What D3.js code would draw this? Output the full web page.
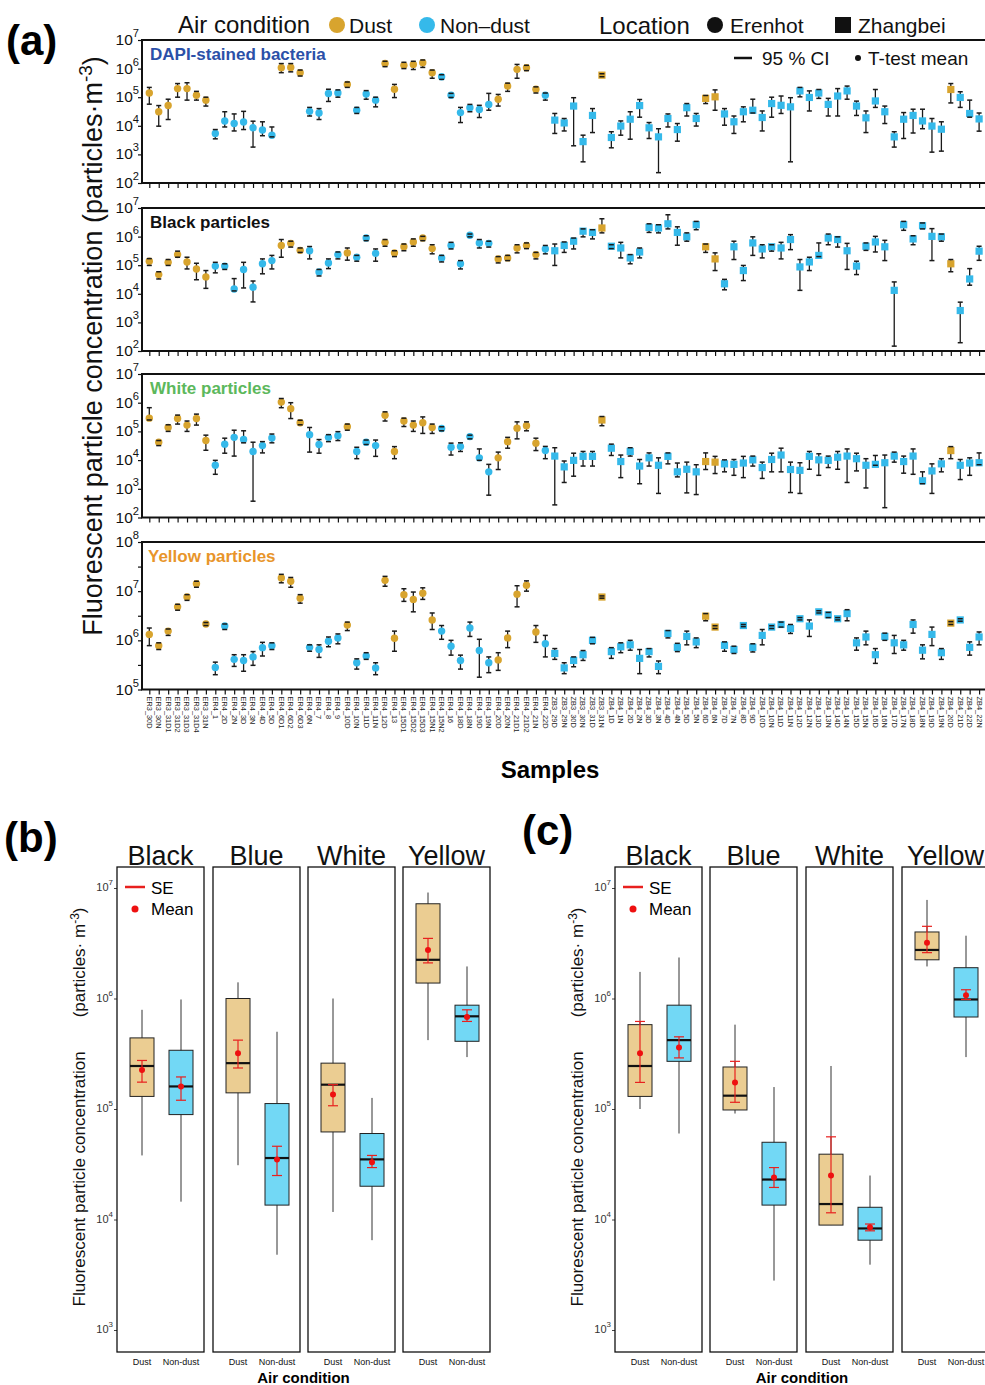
<!DOCTYPE html>
<html>
<head>
<meta charset="utf-8">
<script src="https://cdn.jsdelivr.net/npm/d3@7"></script>
<style>
  html, body { margin: 0; padding: 0; background: #fff; }
  svg { display: block; font-family: "Liberation Sans", Arial, sans-serif; }
</style>
</head>
<body>
<svg id="fig" width="985" height="1385"></svg>
<script>
// ---------------- Panel (a): per-sample means with 95 % CI ----------------
const samples = [
  "ER3_30D","ER3_30N","ER3_31D1","ER3_31D2","ER3_31D3","ER3_31D4","ER3_31N","ER4_1","ER4_2D","ER4_2N",
  "ER4_3D","ER4_3N","ER4_4D","ER4_5D","ER4_6D1","ER4_6D2","ER4_6D3","ER4_6N","ER4_7","ER4_8",
  "ER4_9","ER4_10D","ER4_10N","ER4_11D","ER4_11N","ER4_12D","ER4_13","ER4_15D1","ER4_15D2","ER4_15D3",
  "ER4_15N1","ER4_15N2","ER4_16","ER4_18D","ER4_18N","ER4_19D","ER4_19N","ER4_20D","ER4_20N","ER4_21D1",
  "ER4_21D2","ER4_21N","ER4_22D","ZB3_29D","ZB3_29N","ZB3_30D","ZB3_30N","ZB3_31D","ZB3_31N","ZB4_1D",
  "ZB4_1N","ZB4_2D","ZB4_2N","ZB4_3D","ZB4_3N","ZB4_4D","ZB4_4N","ZB4_5D","ZB4_5N","ZB4_6D",
  "ZB4_6N","ZB4_7D","ZB4_7N","ZB4_8D","ZB4_9D","ZB4_10D","ZB4_10N","ZB4_11D","ZB4_11N","ZB4_12D",
  "ZB4_12N","ZB4_13D","ZB4_13N","ZB4_14D","ZB4_14N","ZB4_15D","ZB4_15N","ZB4_16D","ZB4_16N","ZB4_17D",
  "ZB4_17N","ZB4_18D","ZB4_18N","ZB4_19D","ZB4_19N","ZB4_20D","ZB4_21D","ZB4_22D","ZB4_22N"
];

// indices of dust-event samples; everything else is non-dust
const dustSamples = [0,1,2,3,4,5,6,14,15,16,21,25,26,27,28,29,30,37,38,39,40,41,48,59,60,85];

const dapiMean = [
  1.4e5,3.1e4,5.1e4,2.0e5,2.0e5,1.17e5,7.9e4,5.4e3,1.48e4,1.2e4,
  1.35e4,8.5e3,7.1e3,4.7e3,1.07e6,1.1e6,7.2e5,3.2e4,2.8e4,1.35e5,
  1.4e5,2.8e5,3.5e4,1.3e5,7.9e4,1.5e6,1.9e5,1.3e6,1.4e6,1.6e6,
  7.2e5,5.2e5,1.17e5,2.9e4,4.3e4,3.7e4,5.6e4,8.5e4,2.45e5,9.4e5,
  1.07e6,1.9e5,1.17e5,1.58e4,1.26e4,4.9e4,2.8e3,2.3e4,5.9e5,3.9e3,
  9.8e3,1.7e4,5.1e4,8.5e3,4.1e3,1.8e4,7.4e3,4.3e4,1.8e4,9.1e4,
  1.03e5,2.6e4,1.38e4,3.1e4,3.5e4,1.95e4,6.0e4,5.2e4,4.6e4,1.66e5,
  9.8e4,1.4e5,5.6e4,1.1e5,1.66e5,4.9e4,1.9e4,7.4e4,3.1e4,4.1e3,
  1.7e4,2.3e4,1.48e4,9.8e3,7.6e3,1.86e5,9.8e4,2.7e4,1.74e4
];
const dapiLow = [
  5.7e4,9.7e3,1.66e4,1.0e5,7.9e4,7.9e4,4.9e4,3.5e3,9.1e3,6.6e3,
  7.4e3,1.8e3,4.5e3,4.1e3,7.2e5,7.7e5,5.5e5,2.2e4,1.66e4,7.1e4,
  1.0e5,2.2e5,2.7e4,8.5e4,4.6e4,1.17e6,9.7e4,1.0e6,9.3e5,1.1e6,
  4.6e5,4.2e5,9.8e4,1.3e4,3.1e4,1.95e4,3.5e4,4.9e4,1.6e5,4.6e5,
  8.5e5,1.4e5,7.9e4,5.4e3,6.6e3,2.0e3,550,5.8e3,5.2e5,1.7e3,
  4.7e3,3.4e3,2.0e4,3.6e3,230,9.1e3,2.9e3,2.2e4,9.8e3,6.0e4,
  3.5e4,1.05e4,5.4e3,1.38e4,2.8e4,6.6e3,2.0e4,2.7e4,550,1.03e5,
  3.3e4,9.1e4,2.2e4,2.2e4,8.5e4,2.3e4,5.8e3,4.4e4,1.2e4,1.8e3,
  3.6e3,5.6e3,7.9e3,1.2e3,1.3e3,6.3e4,4.4e4,2.0e4,6.5e3
];
const dapiHigh = [
  2.2e5,5.1e4,8.5e4,3.0e5,3.2e5,1.6e5,1.0e5,7.4e3,3.1e4,2.6e4,
  3.2e4,1.45e4,1.38e4,9.1e3,1.5e6,1.5e6,8.9e5,4.4e4,4.0e4,1.9e5,
  1.8e5,3.4e5,4.4e4,1.7e5,1.0e5,1.8e6,2.8e5,1.66e6,1.8e6,2.0e6,
  8.9e5,6.1e5,1.36e5,4.4e4,5.6e4,5.2e4,1.36e5,1.25e5,3.1e5,1.4e6,
  1.3e6,2.3e5,1.4e5,2.7e4,1.8e4,9.6e4,4.7e3,4.0e4,6.6e5,6.2e3,
  1.48e4,3.1e4,8.3e4,1.3e4,7.9e3,2.6e4,1.2e4,6.0e4,2.7e4,1.15e5,
  1.8e5,4.0e4,2.2e4,4.6e4,8.5e4,3.3e4,1.0e5,1.1e5,9.6e4,2.2e5,
  1.66e5,1.86e5,9.1e4,2.0e5,2.45e5,7.3e4,3.3e4,1.86e5,4.9e4,6.2e3,
  2.9e4,3.8e4,3.8e4,1.8e4,1.38e4,3.0e5,1.55e5,7.9e4,2.8e4
];

const blackMean = [
  1.38e5,4.7e4,1.26e5,2.35e5,1.3e5,7.4e4,3.9e4,9.3e4,9.3e4,1.48e4,
  7.1e4,1.7e4,1.12e5,1.45e5,4.9e5,5.8e5,3.3e5,3.2e5,5.8e4,1.2e5,
  2.35e5,2.7e5,1.9e5,8.9e5,2.6e5,6.3e5,2.7e5,4.4e5,6.5e5,8.9e5,
  3.8e5,1.8e5,4.9e5,1.12e5,1.12e6,6.0e5,5.8e5,1.66e5,1.8e5,4.0e5,
  4.9e5,2.35e5,3.7e5,3.2e5,4.9e5,6.9e5,1.55e6,1.4e6,2.0e6,4.6e5,
  4.0e5,1.8e5,2.9e5,2.1e6,2.0e6,2.8e6,1.4e6,9.8e5,2.6e6,4.4e5,
  1.66e5,2.24e4,4.4e5,6.5e4,6.0e5,3.7e5,4.4e5,4.0e5,7.9e5,8.7e4,
  1.3e5,2.2e5,8.9e5,7.9e5,3.2e5,9.3e4,4.6e5,6.5e5,4.4e5,1.32e4,
  2.6e6,8.3e5,2.4e6,1.02e6,9.8e5,1.12e5,2.6e3,3.3e4,3.1e5
];
const blackLow = [
  9.8e4,3.3e4,9.8e4,1.9e5,7.4e4,3.1e4,1.55e4,5.4e4,7.1e4,1.26e4,
  1.6e4,5.2e3,5.0e4,7.4e4,1.9e5,4.3e5,2.8e5,1.66e5,4.2e4,7.6e4,
  1.66e5,1.5e5,1.38e5,7.2e5,1.38e5,4.6e5,2.0e5,3.2e5,4.6e5,7.2e5,
  2.5e5,1.3e5,3.7e5,7.4e4,9.8e5,4.0e5,4.3e5,1.2e5,1.45e5,2.7e5,
  3.8e5,1.66e5,2.5e5,9.8e4,2.8e5,3.7e5,9.8e5,8.3e5,1.35e6,3.8e5,
  1.8e5,1.12e5,1.8e5,1.4e6,1.35e6,1.86e6,5.0e5,6.9e5,1.74e6,2.8e5,
  6.5e4,1.38e4,1.58e5,2.9e4,2.2e5,1.8e5,3.1e5,1.66e5,3.5e5,1.32e4,
  6.5e4,2.0e5,5.2e5,4.3e5,7.1e4,4.7e4,3.3e5,2.9e5,1.45e5,148,
  1.66e6,5.2e5,1.86e6,1.45e5,6.9e5,5.9e4,195,2.0e4,1.48e5
];
const blackHigh = [
  1.7e5,5.9e4,1.58e5,3.1e5,1.9e5,1.17e5,6.5e4,1.26e5,1.12e5,3.4e4,
  1.26e5,2.8e4,1.66e5,2.2e5,7.9e5,6.9e5,4.0e5,4.5e5,7.1e4,1.66e5,
  2.9e5,4.0e5,2.2e5,1.07e6,3.7e5,7.9e5,3.2e5,5.5e5,8.3e5,1.02e6,
  5.2e5,2.2e5,6.3e5,1.45e5,1.23e6,7.9e5,6.9e5,2.0e5,2.2e5,5.2e5,
  6.0e5,2.8e5,4.9e5,5.5e5,6.5e5,8.9e5,1.86e6,1.74e6,4.2e6,5.2e5,
  6.3e5,2.35e5,4.0e5,2.8e6,2.6e6,5.8e6,2.2e6,1.35e6,3.4e6,5.5e5,
  2.7e5,3.2e4,6.9e5,9.8e4,9.8e5,5.2e5,5.2e5,6.3e5,1.17e6,1.58e5,
  1.9e5,6.0e5,1.23e6,9.8e5,5.8e5,1.38e5,6.0e5,1.02e6,7.4e5,2.6e4,
  3.4e6,1.07e6,3.0e6,1.9e6,1.23e6,1.58e5,5.1e3,7.6e4,4.6e5
];

const whiteMean = [
  2.9e5,4.2e4,1.37e5,2.8e5,1.66e5,2.8e5,4.8e4,6.6e3,3.6e4,6.2e4,
  5.2e4,2.0e4,3.2e4,5.9e4,1.05e6,6.2e5,2.0e5,7.7e4,3.5e4,6.2e4,
  7.1e4,1.45e5,2.0e4,4.2e4,3.2e4,3.65e5,2.0e4,2.3e5,1.66e5,2.0e5,
  1.37e5,1.26e5,2.8e4,2.95e4,6.6e4,1.2e4,3.9e3,1.2e4,4.4e4,1.3e5,
  1.58e5,3.9e4,2.15e4,1.38e4,5.8e3,9.8e3,1.35e4,1.35e4,2.5e5,2.6e4,
  8.9e3,2.0e4,6.2e3,1.2e4,6.6e3,1.35e4,3.9e3,4.8e3,3.9e3,8.9e3,
  8.5e3,7.4e3,7.1e3,7.9e3,1.02e4,5.5e3,1.05e4,1.5e4,4.7e3,4.4e3,
  1.35e4,1.02e4,9.8e3,1.26e4,1.38e4,1.12e4,6.6e3,7.1e3,8.1e3,1.38e4,
  8.9e3,1.38e4,1.9e3,4.2e3,7.4e3,2.15e4,6.6e3,7.9e3,8.1e3
];
const whiteLow = [
  2.5e5,3.2e4,1.0e5,1.8e5,1.0e5,1.66e5,2.2e4,3.2e3,1.74e4,1.38e4,
  4.0e4,370,1.78e4,4.0e4,6.7e5,2.8e5,1.7e5,1.9e4,1.74e4,4.4e4,
  4.8e4,1.1e5,1.12e4,3.5e4,1.35e4,2.3e5,1.12e4,1.48e5,1.0e5,8.5e4,
  8.5e4,1.05e5,1.5e4,2.0e4,5.5e4,9.8e3,600,4.7e3,2.6e4,5.5e4,
  1.05e5,2.15e4,1.12e4,275,1.66e3,2.75e3,6.2e3,6.2e3,1.58e5,1.45e4,
  2.45e3,1.38e4,1.5e3,6.2e3,690,7.4e3,2.6e3,720,630,4.7e3,
  3.4e3,3.9e3,2.95e3,2.45e3,6.2e3,2.3e3,3.9e3,3.9e3,740,690,
  4.8e3,2.95e3,5.5e3,4.8e3,1.66e3,4.2e3,1.07e3,6.6e3,220,8.5e3,
  3.5e3,3.2e3,1.5e3,690,3.9e3,1.12e4,2.1e3,2.95e3,6.9e3
];
const whiteHigh = [
  6.7e5,4.8e4,1.7e5,3.7e5,2.3e5,4.0e5,7.4e4,9.8e3,5.8e4,1.1e5,
  1.05e5,4.2e4,4.4e4,8.1e4,1.4e6,1.0e6,2.45e5,1.37e5,5.2e4,7.7e4,
  9.8e4,1.8e5,2.8e4,5.0e4,5.0e4,4.8e5,2.95e4,2.9e5,2.3e5,3.2e5,
  1.8e5,1.45e5,3.9e4,4.0e4,7.4e4,2.45e4,7.1e3,1.9e4,6.2e4,2.15e5,
  2.15e5,5.8e4,3.0e4,2.7e4,9.3e3,1.74e4,2.0e4,2.0e4,3.3e5,3.6e4,
  1.5e4,2.7e4,1.05e4,1.78e4,1.2e4,1.78e4,7.9e3,8.5e3,6.9e3,1.78e4,
  1.35e4,1.02e4,1.05e4,1.35e4,1.38e4,8.5e3,1.74e4,2.6e4,8.5e3,8.1e3,
  2.0e4,1.66e4,1.38e4,2.0e4,2.45e4,1.74e4,1.12e4,1.45e4,1.5e4,1.9e4,
  1.38e4,2.45e4,3.9e3,7.4e3,1.12e4,2.95e4,1.05e4,1.2e4,1.78e4
];

const yellowMean = [
  1.32e6,7.8e5,1.54e6,4.8e6,7.6e6,1.42e7,2.15e6,2.8e5,1.95e6,4.1e5,
  3.9e5,4.6e5,7.1e5,7.8e5,1.86e7,1.59e7,7.2e6,7.2e5,6.5e5,9.6e5,
  1.12e6,2.04e6,3.5e5,4.8e5,2.75e5,1.66e7,1.1e6,8.5e6,6.8e6,9.1e6,
  2.6e6,1.54e6,7.6e5,3.9e5,1.78e6,6.2e5,3.5e5,4.0e5,1.12e6,8.7e6,
  1.32e7,1.48e6,8.5e5,5.4e5,2.75e5,3.9e5,5.1e5,1.0e6,7.6e6,5.9e5,
  7.4e5,8.1e5,4.3e5,5.9e5,2.95e5,1.38e6,7.2e5,1.2e6,9.3e5,3.1e6,
  1.86e6,7.9e5,6.5e5,2.0e6,7.2e5,1.26e6,1.86e6,2.1e6,1.74e6,2.75e6,
  1.95e6,3.8e6,3.3e6,2.75e6,3.5e6,8.9e5,1.17e6,5.1e5,1.2e6,8.9e5,
  8.1e5,2.1e6,6.3e5,1.32e6,5.6e5,2.24e6,2.6e6,7.2e5,1.17e6
];
const yellowLow = [
  7.8e5,6.5e5,1.26e6,4.1e6,6.5e6,1.2e7,2.0e6,2.0e5,1.66e6,2.95e5,
  2.35e5,3.1e5,4.8e5,6.5e5,1.48e7,1.2e7,5.7e6,6.0e5,4.5e5,7.4e5,
  8.5e5,1.58e6,2.6e5,4.1e5,2.0e5,1.26e7,6.0e5,6.2e6,3.8e6,6.8e6,
  1.66e6,1.05e6,5.0e5,2.6e5,1.2e6,1.78e5,2.2e5,2.45e5,7.1e5,4.8e6,
  1.0e7,9.1e5,4.6e5,4.1e5,2.1e5,2.9e5,3.9e5,8.5e5,7.2e6,4.3e5,
  5.6e5,6.3e5,2.1e5,4.6e5,2.1e5,1.12e6,5.9e5,8.1e5,7.1e5,2.5e6,
  1.74e6,6.0e5,5.4e5,1.9e6,5.8e5,8.1e5,1.74e6,1.86e6,1.38e6,2.6e6,
  1.2e6,3.6e6,2.9e6,2.6e6,2.5e6,6.3e5,8.1e5,3.4e5,1.0e6,5.4e5,
  6.3e5,1.4e6,4.2e5,7.8e5,4.1e5,2.1e6,2.45e6,5.0e5,8.1e5
];
const yellowHigh = [
  1.78e6,8.9e5,1.7e6,5.4e6,8.5e6,1.59e7,2.3e6,3.6e5,2.15e6,5.1e5,
  5.1e5,5.9e5,9.1e5,8.9e5,2.2e7,1.9e7,8.5e6,8.1e5,8.1e5,1.17e6,
  1.35e6,2.35e6,4.2e5,5.6e5,3.5e5,2.0e7,1.54e6,1.12e7,9.6e6,1.17e7,
  3.6e6,2.0e6,1.0e6,5.0e5,2.35e6,1.05e6,4.6e5,5.6e5,1.54e6,1.29e7,
  1.62e7,2.0e6,1.26e6,6.8e5,3.5e5,4.6e5,6.2e5,1.15e6,8.0e6,7.1e5,
  8.9e5,1.0e6,6.5e5,6.8e5,3.8e5,1.58e6,8.7e5,1.54e6,1.12e6,3.5e6,
  1.98e6,9.3e5,7.6e5,2.1e6,8.5e5,1.66e6,1.98e6,2.35e6,2.1e6,2.9e6,
  2.6e6,4.0e6,3.7e6,2.9e6,4.2e6,1.12e6,1.54e6,6.8e5,1.4e6,1.26e6,
  1.0e6,2.6e6,8.1e5,1.86e6,6.8e5,2.4e6,2.75e6,9.3e5,1.48e6
];

// ---------------- Panels (b) and (c): box plots by air condition ----------------
const colourGroups = ["Black", "Blue", "White", "Yellow"];
const airConditions = ["Dust", "Non-dust"];
// per group, [dust, non-dust]; order inside each pair: whisker low, Q1, median, Q3, whisker high
const boxStatsB = [
  [[3.8e4, 1.3e5, 2.45e5, 4.4e5, 7.9e5], [1.45e4, 8.9e4, 1.6e5, 3.4e5, 9.8e5]],
  [[3.1e4, 1.4e5, 2.6e5, 1.0e6, 1.4e6],  [4.8e3, 1.35e4, 3.6e4, 1.12e5, 5.0e5]],
  [[1.17e4, 6.2e4, 1.66e5, 2.6e5, 1.0e6], [6.5e3, 2.0e4, 3.5e4, 6.0e4, 1.26e5]],
  [[4.2e5, 1.38e6, 2.24e6, 7.2e6, 9.1e6], [2.95e5, 4.1e5, 6.9e5, 8.7e5, 1.95e6]]
];
// per group, [dust, non-dust]; order: mean, SE low, SE high
const meanSEB = [
  [[2.25e5, 1.75e5, 2.75e5], [1.6e5, 1.2e5, 1.95e5]],
  [[3.2e5, 2.35e5, 4.2e5],   [3.5e4, 2.5e4, 4.6e4]],
  [[1.35e5, 1.07e5, 1.66e5], [3.3e4, 2.95e4, 3.8e4]],
  [[2.75e6, 2.1e6, 3.5e6],   [6.8e5, 6.2e5, 7.9e5]]
];
const boxStatsC = [
  [[1.0e5, 1.3e5, 2.45e5, 5.8e5, 1.74e6], [6.0e4, 2.7e5, 4.2e5, 8.7e5, 2.35e6]],
  [[9.1e4, 9.8e4, 1.32e5, 2.4e5, 5.8e5],  [2.8e3, 1.35e4, 2.3e4, 5.0e4, 1.58e5]],
  [[8.9e3, 8.9e3, 1.38e4, 3.9e4, 2.45e5], [3.9e3, 6.5e3, 8.3e3, 1.29e4, 2.5e4]],
  [[1.95e6, 2.24e6, 2.75e6, 4.0e6, 7.8e6], [2.95e5, 6.8e5, 9.8e5, 1.9e6, 3.7e6]]
];
const meanSEC = [
  [[3.2e5, 1.74e5, 6.2e5], [3.6e5, 2.9e5, 4.5e5]],
  [[1.74e5, 1.15e5, 2.7e5], [2.4e4, 1.95e4, 2.95e4]],
  [[2.5e4, 1.15e4, 5.6e4], [8.5e3, 7.9e3, 9.1e3]],
  [[3.2e6, 2.6e6, 4.5e6], [1.07e6, 9.8e5, 1.2e6]]
];

// ---------------- drawing ----------------
const svg = d3.select("#fig");
const DUST = "#d8a42e", NONDUST = "#35b9ea";

function powerLabel(sel, x, y, exp, size, anchor, fill) {
  const t = sel.append("text").attr("x", x).attr("y", y).attr("text-anchor", anchor)
    .attr("dominant-baseline", "middle").attr("font-size", size).attr("fill", fill || "#111");
  t.append("tspan").text("10");
  t.append("tspan").attr("dy", -size * 0.45).attr("font-size", size * 0.72).text(exp);
  return t;
}

// ---- Panel (a)
const x = d3.scalePoint().domain(samples).range([149.3, 979.1]);
const frameL = 142, frameR = 990;
const isDust = samples.map((s, i) => dustSamples.includes(i));

const subpanels = [
  { title: "DAPI-stained bacteria", color: "#2b50a8", top: 40,  bottom: 183,   domain: [1e2, 1e7], mean: dapiMean,   lo: dapiLow,   hi: dapiHigh },
  { title: "Black particles",       color: "#111111", top: 208, bottom: 351,   domain: [1e2, 1e7], mean: blackMean,  lo: blackLow,  hi: blackHigh },
  { title: "White particles",       color: "#5cb85c", top: 374, bottom: 517.5, domain: [1e2, 1e7], mean: whiteMean,  lo: whiteLow,  hi: whiteHigh },
  { title: "Yellow particles",      color: "#e8952a", top: 542, bottom: 689.5, domain: [1e5, 1e8], mean: yellowMean, lo: yellowLow, hi: yellowHigh }
];

subpanels.forEach((p, pi) => {
  const y = d3.scaleLog().domain(p.domain).range([p.bottom, p.top]);
  const g = svg.append("g");
  const decades = d3.range(Math.log10(p.domain[0]), Math.log10(p.domain[1]) + 1);

  // frame
  g.append("rect").attr("x", frameL).attr("y", p.top).attr("width", frameR - frameL)
    .attr("height", p.bottom - p.top).attr("fill", "none").attr("stroke", "#111").attr("stroke-width", 2);

  // y axis ticks + labels
  const yAxis = d3.axisLeft(y).tickValues(decades.map(d => Math.pow(10, d))).tickSize(4).tickFormat("");
  const ya = g.append("g").attr("transform", `translate(${frameL},0)`).call(yAxis);
  ya.select(".domain").remove();
  ya.selectAll("line").attr("stroke", "#111").attr("stroke-width", 1.2);
  if (pi === 3) {
    const halfTicks = d3.range(5.5, 8, 1).map(d => Math.pow(10, d));
    g.append("g").attr("transform", `translate(${frameL},0)`)
      .call(d3.axisLeft(y).tickValues(halfTicks).tickSize(4).tickFormat(""))
      .call(s => { s.select(".domain").remove(); s.selectAll("line").attr("stroke", "#111").attr("stroke-width", 1.2); });
  }
  decades.forEach(d => powerLabel(g, 139, y(Math.pow(10, d)) + 1, d, 15.5, "end"));

  // x ticks
  const xa = g.append("g").attr("transform", `translate(0,${p.bottom})`)
    .call(d3.axisBottom(x).tickSize(5).tickFormat(""));
  xa.select(".domain").remove();
  xa.selectAll("line").attr("stroke", "#111").attr("stroke-width", 1.2);

  // title
  g.append("text").attr("x", pi === 3 ? 148 : 150).attr("y", p.top + 20)
    .attr("font-size", 17).attr("font-weight", "bold").attr("fill", p.color).text(p.title);

  const pts = samples.map((s, i) => ({ s, i, m: p.mean[i], lo: p.lo[i], hi: p.hi[i], dust: isDust[i], er: s.startsWith("ER") }));

  // CI stems
  g.selectAll("line.ci").data(pts).join("line").attr("class", "ci")
    .attr("x1", d => x(d.s)).attr("x2", d => x(d.s))
    .attr("y1", d => y(d.lo)).attr("y2", d => y(d.hi))
    .attr("stroke", "#1a1a1a").attr("stroke-width", 1.3);

  // mean markers (circle = Erenhot, square = Zhangbei)
  g.selectAll("circle.pt").data(pts.filter(d => d.er)).join("circle").attr("class", "pt")
    .attr("cx", d => x(d.s)).attr("cy", d => y(d.m)).attr("r", 3.7)
    .attr("fill", d => d.dust ? DUST : NONDUST);
  g.selectAll("rect.pt").data(pts.filter(d => !d.er)).join("rect").attr("class", "pt")
    .attr("x", d => x(d.s) - 3.6).attr("y", d => y(d.m) - 3.6).attr("width", 7.2).attr("height", 7.2)
    .attr("fill", d => d.dust ? DUST : NONDUST);

  // caps
  ["lo", "hi"].forEach(k => {
    g.selectAll("line.cap" + k).data(pts).join("line").attr("class", "cap" + k)
      .attr("x1", d => x(d.s) - 2.5).attr("x2", d => x(d.s) + 2.5)
      .attr("y1", d => y(d[k])).attr("y2", d => y(d[k]))
      .attr("stroke", "#1a1a1a").attr("stroke-width", 1.5);
  });

  // sample labels under the last panel
  if (pi === 3) {
    g.selectAll("text.sample").data(samples).join("text").attr("class", "sample")
      .attr("transform", d => `translate(${x(d) - 2.6},${p.bottom + 7}) rotate(90)`)
      .attr("font-size", 7.4).attr("fill", "#222").text(d => d);
  }
});

// panel (a) texts
svg.append("text").attr("x", 6).attr("y", 55).attr("font-size", 42).attr("font-weight", "bold").text("(a)");
svg.append("text").attr("transform", "translate(102,346) rotate(-90)").attr("text-anchor", "middle")
  .attr("font-size", 27).attr("fill", "#111")
  .call(t => {
    t.append("tspan").text("Fluorescent particle concentration (particles·m");
    t.append("tspan").attr("dy", -10).attr("font-size", 19).text("-3");
    t.append("tspan").attr("dy", 10).text(")");
  });
svg.append("text").attr("x", 550).attr("y", 778).attr("text-anchor", "middle")
  .attr("font-size", 24).attr("font-weight", "bold").text("Samples");

// top legend
const lg = svg.append("g").attr("font-size", 21).attr("fill", "#111");
lg.append("text").attr("x", 178).attr("y", 33).attr("font-size", 24).text("Air condition");
lg.append("circle").attr("cx", 337).attr("cy", 25).attr("r", 8).attr("fill", DUST);
lg.append("text").attr("x", 349).attr("y", 33).text("Dust");
lg.append("circle").attr("cx", 427).attr("cy", 25).attr("r", 8).attr("fill", NONDUST);
lg.append("text").attr("x", 440).attr("y", 33).text("Non–dust");
lg.append("text").attr("x", 599).attr("y", 34).attr("font-size", 24).text("Location");
lg.append("circle").attr("cx", 715).attr("cy", 25).attr("r", 8).attr("fill", "#111");
lg.append("text").attr("x", 730).attr("y", 33).text("Erenhot");
lg.append("rect").attr("x", 835).attr("y", 17).attr("width", 16).attr("height", 16).attr("fill", "#111");
lg.append("text").attr("x", 858).attr("y", 33).text("Zhangbei");

const lg2 = svg.append("g").attr("font-size", 19).attr("fill", "#111");
lg2.append("line").attr("x1", 734).attr("x2", 752).attr("y1", 58).attr("y2", 58).attr("stroke", "#111").attr("stroke-width", 2.5);
lg2.append("text").attr("x", 762).attr("y", 65).text("95 % CI");
lg2.append("circle").attr("cx", 858).attr("cy", 58).attr("r", 3).attr("fill", "#111");
lg2.append("text").attr("x", 868).attr("y", 65).text("T-test mean");

// ---- Panels (b) and (c)
const yb = d3.scaleLog().domain([1e3, 1e7]).range([1330, 888]);
const facetTop = 867, facetBottom = 1352, facetW = 87;

function boxPanel(tag, tagX, tagY, facetLefts, stats, meanSE, axisX) {
  const g = svg.append("g");
  g.append("text").attr("x", tagX).attr("y", tagY).attr("font-size", 42).attr("font-weight", "bold").text(tag);

  // y axis labels
  d3.range(3, 8).forEach(d => {
    powerLabel(g, axisX - 4, yb(Math.pow(10, d)), d, 11, "end", "#333");
  });
  const ya = g.append("g").attr("transform", `translate(${facetLefts[0]},0)`)
    .call(d3.axisLeft(yb).tickValues(d3.range(3, 8).map(d => Math.pow(10, d))).tickSize(3).tickFormat(""));
  ya.select(".domain").remove();
  ya.selectAll("line").attr("stroke", "#444");

  // y title
  g.append("text").attr("transform", `translate(${facetLefts[0] - 32},1107) rotate(-90)`)
    .attr("text-anchor", "middle").attr("font-size", 17).attr("fill", "#111")
    .call(t => {
      t.append("tspan").text("Fluorescent particle concentration\u2003\u2003(particles· m");
      t.append("tspan").attr("dy", -6).attr("font-size", 12).text("-3");
      t.append("tspan").attr("dy", 6).text(")");
    });

  colourGroups.forEach((grp, gi) => {
    const left = facetLefts[gi];
    const xs = d3.scalePoint().domain(airConditions).range([left + 25, left + 64]);
    g.append("rect").attr("x", left).attr("y", facetTop).attr("width", facetW)
      .attr("height", facetBottom - facetTop).attr("fill", "none").attr("stroke", "#111").attr("stroke-width", 1.3);
    g.append("text").attr("x", left + facetW / 2).attr("y", facetTop - 2).attr("text-anchor", "middle")
      .attr("font-size", 27).attr("fill", "#111").text(grp);

    airConditions.forEach((ac, ci) => {
      const [wl, q1, md, q3, wh] = stats[gi][ci];
      const [mn, sl, sh] = meanSE[gi][ci];
      const cx = xs(ac), bw = 24;
      g.append("line").attr("x1", cx).attr("x2", cx).attr("y1", yb(wl)).attr("y2", yb(wh))
        .attr("stroke", "#333").attr("stroke-width", 1);
      g.append("rect").attr("x", cx - bw / 2).attr("y", yb(q3)).attr("width", bw)
        .attr("height", yb(q1) - yb(q3)).attr("fill", ci === 0 ? "#ebcd92" : "#72d8f5")
        .attr("stroke", "#222").attr("stroke-width", 1);
      g.append("line").attr("x1", cx - bw / 2).attr("x2", cx + bw / 2).attr("y1", yb(md)).attr("y2", yb(md))
        .attr("stroke", "#111").attr("stroke-width", 2.2);
      // SE bar + mean
      g.append("line").attr("x1", cx).attr("x2", cx).attr("y1", yb(sl)).attr("y2", yb(sh))
        .attr("stroke", "#e8201e").attr("stroke-width", 1.2);
      [sl, sh].forEach(v => g.append("line").attr("x1", cx - 5).attr("x2", cx + 5)
        .attr("y1", yb(v)).attr("y2", yb(v)).attr("stroke", "#e8201e").attr("stroke-width", 1.2));
      g.append("circle").attr("cx", cx).attr("cy", yb(mn)).attr("r", 3).attr("fill", "#ee1010");
      g.append("text").attr("x", cx).attr("y", 1365).attr("text-anchor", "middle")
        .attr("font-size", 9).attr("fill", "#111").text(ac);
    });
  });

  g.append("text").attr("x", (facetLefts[0] + facetLefts[3] + facetW) / 2).attr("y", 1383)
    .attr("text-anchor", "middle").attr("font-size", 15).attr("font-weight", "bold").text("Air condition");

  // legend in first facet
  const L = facetLefts[0];
  g.append("line").attr("x1", L + 8).attr("x2", L + 28).attr("y1", 887).attr("y2", 887)
    .attr("stroke", "#e8201e").attr("stroke-width", 2.5);
  g.append("text").attr("x", L + 34).attr("y", 894).attr("font-size", 17).text("SE");
  g.append("circle").attr("cx", L + 18).attr("cy", 909).attr("r", 3.5).attr("fill", "#ee1010");
  g.append("text").attr("x", L + 34).attr("y", 915).attr("font-size", 17).text("Mean");
}

boxPanel("(b)", 4, 852, [117, 213, 308, 403], boxStatsB, meanSEB, 117);
boxPanel("(c)", 522, 845, [615, 710, 806, 902], boxStatsC, meanSEC, 615);
</script>
</body>
</html>
